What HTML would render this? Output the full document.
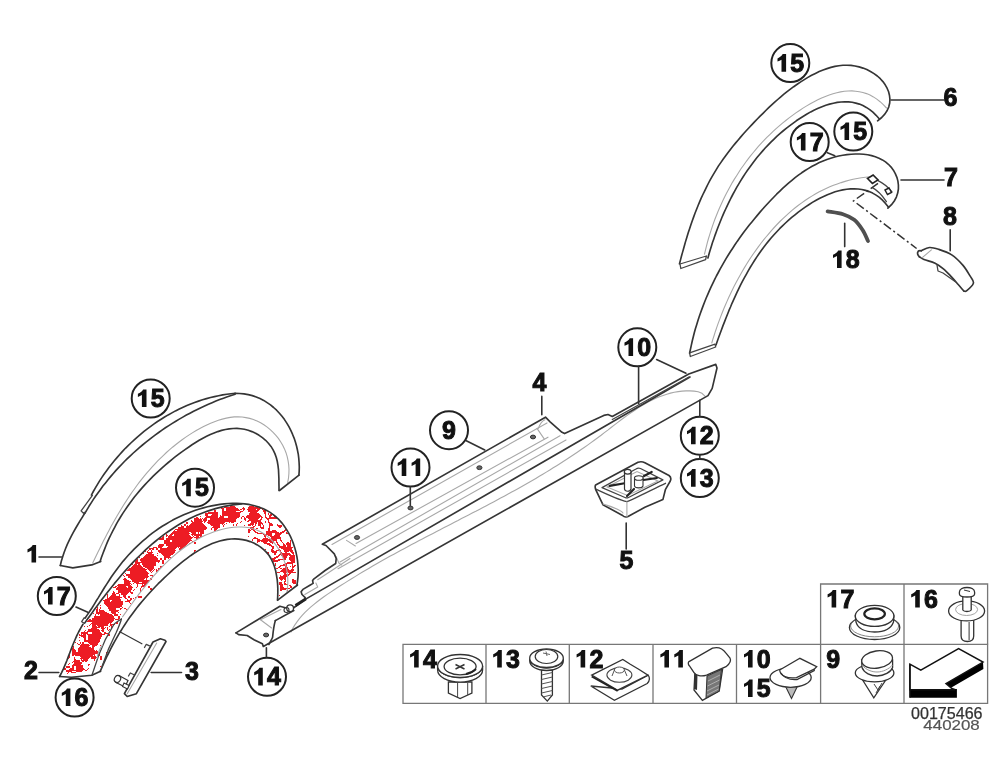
<!DOCTYPE html>
<html><head><meta charset="utf-8">
<style>
html,body{margin:0;padding:0;background:#fff;width:1000px;height:758px;overflow:hidden}
svg{display:block;will-change:transform}
.n{font-family:"Liberation Sans",sans-serif;font-weight:bold;font-size:25px;fill:#111;stroke:#111;stroke-width:1}
.c{fill:#fff;stroke:#222;stroke-width:2}
.L{fill:none;stroke:#333;stroke-width:1.6;stroke-linecap:round;stroke-linejoin:round}
.o{fill:none;stroke:#353535;stroke-width:1.65;stroke-linecap:round;stroke-linejoin:round}
.m{fill:none;stroke:#444;stroke-width:1.3;stroke-linecap:round;stroke-linejoin:round}
.t{fill:none;stroke:#a8a8a8;stroke-width:1.1;stroke-linecap:round}
.g{fill:none;stroke:#888;stroke-width:1.2}
.w{fill:#fff}
</style></head><body>
<svg width="1000" height="758" viewBox="0 0 1000 758">
<rect width="1000" height="758" fill="#fff"/>
<path class="w" d="M680 264C680.4 261.6 680.4 256.8 682.4 249.6C684.4 242.4 688.7 229.1 692 220.8C695.3 212.5 697.8 209.3 702 200C706.2 190.7 712.3 173.1 717.2 164.8C722.1 156.5 725.1 157.1 731.2 150C737.3 142.9 747.2 130 754 122.4C760.8 114.8 765 110.6 772 104.4C779 98.2 788 90.6 796 85.2C804 79.8 810.7 75.3 820 72C829.3 68.7 843.5 65.6 852 65.4C860.5 65.2 865.9 68.2 871.2 71C876.5 73.8 880.8 77.4 884 82.2C887.2 87 889.9 95 890.4 99.8C890.9 104.6 889.3 107.7 887.2 111C885.1 114.3 880.3 120.1 877.6 119.8C874.9 119.5 874.4 112.3 871.2 109.4C868 106.5 862.9 103.6 858.4 102.2C853.9 100.8 849.1 100.7 844 101C838.9 101.3 832 102.8 828 104C824 105.2 825.3 104.9 820 108C814.7 111.1 805.2 115.6 796 122.6C786.8 129.6 774.3 140.6 764.8 150C755.3 159.4 744.8 170.7 739 179C733.2 187.3 733 192.7 730 200C727 207.3 723.8 214.5 720.8 223C717.8 231.5 714.5 245.5 712 251.2C709.5 256.9 706.9 256.2 706 257C705.1 257.8 710.7 254.8 706.4 256C702.1 257.2 684.4 262.7 680 264"/>
<path class="t" d="M886.5 108.0L883.3 104.7L880.1 101.7L876.8 99.1L873.4 96.9L870.0 95.1L866.5 93.6L862.9 92.5L859.3 91.7L855.6 91.2L851.9 90.9L848.1 91.0L844.4 91.3L840.6 91.9L836.8 92.7L833.0 93.7L829.2 95.0L825.4 96.4L821.6 98.0L817.8 99.8L814.1 101.7L810.3 103.7L806.7 105.9L803.0 108.1L799.5 110.5L795.9 112.9L792.5 115.4L789.1 117.9L785.8 120.5L782.5 123.1L779.3 125.8L776.1 128.6L773.1 131.4L770.1 134.3L767.1 137.2L764.2 140.1L761.4 143.1L758.6 146.2L755.9 149.3L753.3 152.5L750.7 155.6L748.2 158.9L745.7 162.2L743.4 165.5L741.0 168.8L738.8 172.2L736.6 175.7L734.4 179.1L732.3 182.6L730.3 186.2L728.4 189.7L726.5 193.3L724.6 196.9L722.9 200.6L721.2 204.3L719.5 208.0L717.9 211.7L716.4 215.5L714.9 219.3L713.5 223.1L712.2 226.9L710.9 230.8L709.7 234.6L708.5 238.5L707.4 242.4L706.4 246.3L705.4 250.3L704.5 254.2"/>
<path class="o" d="M679.5 263.8L680.5 259.9L681.5 256.0L682.6 252.1L683.7 248.2L684.8 244.3L685.9 240.4L687.1 236.5L688.3 232.6L689.6 228.7L690.9 224.8L692.2 221.0L693.6 217.1L695.0 213.3L696.5 209.5L698.0 205.7L699.6 201.9L701.2 198.2L702.9 194.5L704.7 190.8L706.5 187.1L708.3 183.5L710.2 179.9L712.2 176.4L714.3 172.9L716.4 169.4L718.5 165.9L720.8 162.6L723.1 159.2L725.5 155.9L727.9 152.7L730.4 149.4L732.9 146.2L735.5 143.1L738.2 140.0L740.8 136.9L743.5 133.8L746.2 130.8L749.0 127.8L751.7 124.9L754.5 121.9L757.3 119.0L760.1 116.1L763.0 113.3L765.8 110.5L768.7 107.7L771.7 104.9L774.7 102.2L777.7 99.5L780.8 96.8L783.9 94.2L787.1 91.7L790.4 89.2L793.7 86.7L797.2 84.3L800.7 81.9L804.3 79.6L807.9 77.4L811.6 75.3L815.4 73.4L819.2 71.6L823.1 70.0L827.0 68.6L830.9 67.4L834.9 66.4L838.9 65.8L842.9 65.3L847.0 65.2L851.0 65.4L855.0 66.0L859.1 66.9L863.0 68.1L866.8 69.6L870.5 71.5L874.0 73.6L877.3 76.0L880.3 78.7L882.9 81.6L885.2 84.8L887.1 88.2L888.6 91.8L889.5 95.5L889.9 99.2L889.7 103.0L888.8 106.8L887.2 110.5L884.8 114.1L881.7 117.5L877.6 120.8"/>
<path class="o" d="M879.2 118.7L876.1 115.3L872.9 112.2L869.7 109.6L866.3 107.4L862.9 105.6L859.4 104.1L855.8 103.1L852.2 102.3L848.5 101.9L844.7 101.8L841.0 102.0L837.2 102.4L833.4 103.2L829.6 104.1L825.8 105.3L822.0 106.7L818.2 108.3L814.4 110.0L810.7 111.9L807.0 114.0L803.4 116.2L799.8 118.5L796.3 120.8L792.9 123.3L789.5 125.8L786.2 128.3L783.0 131.0L779.9 133.7L776.8 136.4L773.8 139.3L770.9 142.1L768.0 145.1L765.2 148.0L762.5 151.1L759.8 154.2L757.2 157.3L754.7 160.5L752.3 163.7L749.9 167.0L747.5 170.3L745.2 173.6L743.0 177.0L740.9 180.4L738.8 183.9L736.7 187.4L734.8 190.9L732.8 194.5L731.0 198.0L729.2 201.7L727.4 205.3L725.7 209.0L724.0 212.6L722.4 216.3L720.9 220.0L719.4 223.8L717.9 227.5L716.5 231.3L715.1 235.1L713.8 238.9L712.5 242.6L711.3 246.4L710.1 250.3L709.0 254.1L707.9 257.9"/>
<path class="m" d="M680 264 L680.8 268.5 L705.6 259.6 L706.4 256 L680 264"/>
<path class="t" d="M869.7 176.8L865.5 177.2L861.3 177.8L857.2 178.5L853.1 179.3L849.1 180.3L845.1 181.4L841.2 182.6L837.3 183.9L833.5 185.3L829.8 186.8L826.1 188.5L822.4 190.3L818.8 192.1L815.3 194.1L811.8 196.1L808.4 198.3L805.0 200.5L801.7 202.9L798.4 205.3L795.2 207.8L792.0 210.4L788.9 213.1L785.9 215.8L782.9 218.7L779.9 221.5L777.0 224.5L774.2 227.5L771.4 230.6L768.7 233.8L766.0 237.0L763.4 240.2L760.8 243.5L758.3 246.9L755.8 250.3L753.4 253.7L751.0 257.2L748.7 260.7L746.5 264.3L744.3 267.9L742.2 271.5L740.1 275.2L738.0 278.9L736.1 282.6L734.1 286.3L732.3 290.0L730.5 293.8L728.7 297.6L727.0 301.4L725.3 305.2L723.7 309.0L722.2 312.8L720.7 316.6L719.3 320.4L717.9 324.1L716.6 327.9L715.3 331.7L714.1 335.5L712.9 339.2L711.8 343.0"/>
<path class="o" d="M689.6 353.1L690.5 349.0L691.4 344.9L692.3 340.8L693.3 336.8L694.3 332.8L695.4 328.8L696.6 324.9L697.8 321.0L699.1 317.1L700.4 313.2L701.8 309.4L703.2 305.6L704.7 301.8L706.2 298.0L707.8 294.3L709.4 290.6L711.1 286.9L712.8 283.3L714.6 279.6L716.4 276.0L718.3 272.5L720.2 268.9L722.2 265.4L724.2 261.9L726.2 258.4L728.3 255.0L730.5 251.5L732.7 248.2L734.9 244.8L737.2 241.4L739.6 238.1L741.9 234.8L744.3 231.5L746.8 228.3L749.3 225.1L751.9 221.9L754.5 218.7L757.1 215.6L759.8 212.4L762.5 209.3L765.2 206.3L768.0 203.2L770.8 200.2L773.7 197.2L776.6 194.2L779.6 191.3L782.6 188.4L785.7 185.6L788.8 182.9L791.9 180.3L795.1 177.7L798.4 175.2L801.7 172.8L805.1 170.5L808.6 168.4L812.1 166.3L815.7 164.4L819.3 162.6L823.1 161.0L826.9 159.5L830.7 158.2L834.7 157.0L838.7 156.0L842.8 155.2L847.0 154.6L851.2 154.2L855.4 154.0L859.5 154.0L863.6 154.3L867.7 154.8L871.6 155.6L875.3 156.8L879.0 158.2L882.4 159.9L885.5 161.9L888.4 164.3L891.1 167.1L893.4 170.2L895.3 173.6L896.9 177.3L897.9 181.1L898.4 185.0L898.4 189.0L897.7 193.1L896.4 197.1L894.3 201.0L891.5 204.7L887.9 208.2"/>
<path class="o" d="M888.4 207.1L885.5 203.4L882.5 200.2L879.4 197.4L876.1 195.1L872.6 193.1L869.1 191.6L865.5 190.4L861.8 189.5L858.1 189.0L854.3 188.8L850.5 188.9L846.7 189.2L842.8 189.9L839.0 190.7L835.1 191.8L831.3 193.2L827.4 194.7L823.6 196.4L819.8 198.2L816.1 200.3L812.4 202.4L808.8 204.7L805.2 207.1L801.7 209.6L798.3 212.1L795.0 214.8L791.7 217.4L788.6 220.2L785.5 223.0L782.5 225.8L779.6 228.7L776.8 231.7L774.0 234.7L771.3 237.8L768.7 240.9L766.2 244.0L763.7 247.2L761.3 250.5L759.0 253.8L756.7 257.1L754.5 260.5L752.4 263.9L750.3 267.3L748.2 270.8L746.3 274.3L744.3 277.8L742.4 281.4L740.6 284.9L738.8 288.6L737.1 292.2L735.4 295.9L733.7 299.6L732.0 303.3L730.5 307.0L728.9 310.7L727.4 314.5L725.9 318.3L724.4 322.1L722.9 325.9L721.5 329.7L720.1 333.5L718.7 337.3L717.3 341.2L716.0 345.0"/>
<path class="m" d="M689.6 352.9 L690.3 356.5 L715.7 347 L715 344.2 L689.6 352.9"/>
<path class="m" d="M878 180.6 C883 183 888 187 892 191.8 M872.4 187.6 C877 190 882 195 886.4 201.6"/>
<path fill="#fff" stroke="#222" stroke-width="1.6" d="M867.5 178.5 L873.1 175 L878 179.9 L872.4 183.4 Z"/>
<path fill="#fff" stroke="#222" stroke-width="1.4" d="M885 190 L889 188 L891.5 192.5 L887.5 194.5 Z"/>
<path fill="none" stroke="#333" stroke-width="1.5" stroke-dasharray="9 3 2 3" d="M878 183.4 L853.5 200.9 L916.6 248.5"/>
<path fill="none" stroke="#505050" stroke-width="3.8" stroke-linecap="round" d="M827.6 211.4C830.2 211.9 838.6 212.8 843 214.2C847.4 215.6 850.9 217.2 854.2 219.8C857.5 222.4 860.3 226.5 862.6 230C864.9 233.5 867.1 239.2 868 241"/>
<path class="o" d="M921.2 250.8C922.6 250.2 926.6 247.7 929.5 247.5C932.4 247.3 935.1 248.2 938.8 249.4C942.5 250.6 947.7 252.3 951.7 254.9C955.7 257.5 959.7 261.6 962.8 265.1C965.9 268.7 968.4 273.2 970.2 276.2C972 279.2 974 280.7 973.4 283.1C972.8 285.6 968.1 289.6 966.5 290.9C964.9 292.2 964.2 290.9 963.7 290.9"/>
<path class="o" d="M963.7 290.9C962.8 289.8 960.2 286.8 958.2 284.5C956.2 282.2 954.2 279.7 951.7 277.1C949.2 274.5 946.2 271.1 943.4 268.8C940.6 266.5 938.3 264.8 935.1 263.2C931.9 261.6 926.6 260.6 924 259.5C921.4 258.4 920.2 257.2 919.4 256.8"/>
<path class="o" d="M919.4 256.8 C916.5 254 917 250 921.2 250.8"/>
<path class="t" d="M922.2 257.7 L931.4 249.9"/>
<path class="m" d="M937 265 L938 271 L943 273 L955.4 281.7"/>
<path class="w" d="M299 475.2 L296.5 448 L289.7 427.6 L276 408.9 L259 398.7 L235.2 393.3 L216.5 396.2 L191 403.8 L165.5 416.6 L141.6 433 L120 455 L100.1 480 L93 489.5 L92.4 495.4 L81.1 510.9 L84.7 513.3 L72.8 533.4 L64.5 551.3 L60.3 565.5 L72.8 567.9 L91.8 564.9 L100.7 561.4 L100.7 561.4 L104.9 546.5 L114.4 527.5 L128.6 503.8 L145 485.9 L156.4 474 L182.5 450 L210 436 L228.4 428.5 L247.1 429.3 L264.1 437.8 L274.4 453.1 L277.8 475.2 L279.5 490.5 L299 475.2Z"/>
<path class="t" d="M287.7 482.4L288.5 478.0L288.9 473.5L289.0 469.2L288.7 464.9L288.1 460.8L287.2 456.7L286.0 452.7L284.5 448.9L282.7 445.2L280.6 441.7L278.4 438.4L275.9 435.3L273.1 432.3L270.2 429.6L267.2 427.1L263.9 424.8L260.6 422.8L257.1 421.1L253.4 419.6L249.7 418.4L245.9 417.6L242.1 417.0L238.2 416.8L234.2 416.9L230.3 417.4L226.3 418.1L222.3 419.1L218.4 420.3L214.5 421.7L210.6 423.2L206.8 424.9L203.1 426.8L199.4 428.7L195.8 430.8L192.3 432.9L188.8 435.1L185.4 437.4L182.1 439.8L178.8 442.2L175.6 444.7L172.5 447.2L169.4 449.9L166.4 452.5L163.5 455.3L160.6 458.1L157.7 460.9L155.0 463.8L152.2 466.8L149.6 469.8L146.9 472.8L144.4 475.9L141.8 479.1L139.4 482.2L136.9 485.5L134.6 488.7L132.2 492.0L129.9 495.4L127.7 498.7L125.5 502.1L123.3 505.5L121.2 509.0L119.1 512.5L117.0 516.0L115.0 519.5L113.0 523.1L111.0 526.6L109.1 530.2L107.2 533.8L105.3 537.5L103.4 541.1L101.6 544.7L99.8 548.4L98.0 552.0L96.2 555.7L94.5 559.3L92.7 563.0"/>
<path class="o" d="M235.2 393.3L231.0 393.7L226.9 394.3L222.7 394.9L218.6 395.7L214.5 396.6L210.5 397.5L206.5 398.6L202.5 399.8L198.5 401.1L194.6 402.5L190.7 404.0L186.9 405.6L183.1 407.3L179.3 409.0L175.5 410.9L171.9 412.9L168.2 414.9L164.6 417.0L161.1 419.2L157.5 421.5L154.1 423.9L150.7 426.3L147.3 428.8L144.0 431.4L140.8 434.1L137.6 436.8L134.5 439.6L131.4 442.5L128.4 445.4L125.4 448.3L122.5 451.4L119.7 454.5L117.0 457.6L114.3 460.8L111.7 464.0L109.1 467.3L106.6 470.7L104.2 474.0L101.9 477.4L99.6 480.9L97.5 484.4L95.4 487.9L93.3 491.5L91.4 495.1"/>
<path class="o" d="M235.1 394.2L231.2 395.5L227.4 396.8L223.5 398.2L219.7 399.6L215.9 401.1L212.1 402.7L208.4 404.3L204.6 406.0L200.9 407.7L197.3 409.5L193.6 411.3L190.0 413.2L186.4 415.1L182.8 417.1L179.3 419.1L175.8 421.2L172.3 423.4L168.8 425.6L165.4 427.8L162.0 430.1L158.7 432.5L155.4 434.9L152.1 437.3L148.9 439.8L145.7 442.4L142.5 445.0L139.4 447.6L136.3 450.3L133.3 453.0L130.3 455.8L127.3 458.7L124.4 461.5L121.6 464.5L118.8 467.4L116.0 470.4L113.3 473.5L110.6 476.6L108.0 479.7L105.5 482.9L102.9 486.1L100.5 489.4L98.1 492.7L95.7 496.0L93.4 499.4L91.2 502.9L89.0 506.3L86.9 509.8L84.8 513.4"/>
<path class="o" d="M235.0 393.4L239.6 393.5L244.0 393.9L248.2 394.6L252.3 395.6L256.2 397.0L260.0 398.6L263.7 400.4L267.1 402.6L270.5 404.9L273.6 407.5L276.6 410.2L279.4 413.2L282.0 416.3L284.5 419.6L286.8 423.1L288.9 426.7L290.8 430.4L292.5 434.2L294.1 438.1L295.4 442.1L296.6 446.2L297.5 450.3L298.3 454.4L298.8 458.6L299.1 462.8L299.3 467.0L299.2 471.1L298.9 475.2"/>
<path class="o" d="M279.0 490.6L279.0 486.7L278.9 482.6L278.9 478.5L278.7 474.2L278.5 469.9L278.0 465.7L277.3 461.5L276.3 457.5L274.9 453.6L273.1 449.9L271.0 446.4L268.4 443.2L265.6 440.3L262.4 437.7L259.1 435.3L255.6 433.3L251.9 431.6L248.2 430.3L244.4 429.3L240.7 428.7L236.9 428.4L233.1 428.5L229.2 428.9L225.4 429.5L221.6 430.4L217.8 431.6L214.1 433.0L210.3 434.5L206.6 436.3L202.9 438.2L199.2 440.3L195.6 442.5L192.0 444.8L188.5 447.2L185.0 449.6L181.5 452.1L178.1 454.7L174.8 457.2L171.5 459.8L168.3 462.5L165.2 465.1L162.1 467.8L159.1 470.6L156.1 473.4L153.2 476.2L150.3 479.1L147.5 482.0L144.8 484.9L142.1 487.9L139.5 490.9L136.9 494.0L134.4 497.1L132.0 500.3L129.6 503.5L127.3 506.8L125.0 510.1L122.8 513.4L120.7 516.8L118.6 520.2L116.6 523.7L114.7 527.3L112.8 530.9L111.0 534.5L109.2 538.2L107.5 541.9L105.9 545.7L104.4 549.6L102.9 553.5L101.4 557.5L100.1 561.5"/>
<path class="o" d="M84.7 513.3L82.4 517.1L80.0 520.9L77.7 524.7L75.5 528.5L73.3 532.4L71.2 536.4L69.2 540.4L67.3 544.4L65.6 548.5L64.0 552.7L62.6 556.9L61.3 561.2L60.3 565.5"/>
<path class="m" d="M92.4 495.4 L81.1 510.9 L83.5 513.3 L86 511.5"/>
<path class="o" d="M60.3 565.5 L72.8 567.9 L91.8 564.9 L100.7 561.4 M299 475.2 L279.5 490.5"/>
<path id="p2fill" class="w" d="M297.5 585 L296.7 566 L293.5 545.4 L285.6 526.4 L273 513.8 L258.7 505.8 L241.3 503.5 L217.5 505 L200 509.5 L168.6 523 L146.5 538 L127.5 555.4 L111.7 574.4 L104 590 L92.5 609 L84.3 617.7 L81.7 621.7 L83 624.3 L71.1 649.4 L63.2 669.2 L59.6 676.5 L71.5 677.2 L91.9 675.2 L100.5 671.3 L100.5 671.3 L101.1 669.3 L107 656 L115 640 L126.7 622.2 L142.5 601.1 L162.5 580 L168.6 572.8 L200 550.7 L225.4 540 L241.3 538.3 L258.7 543.8 L269.8 558.1 L276.1 577.1 L277.7 600.1Z"/>
<path fill="#ed1c24" d="M230 506h5v1h-5zM249 506h5v1h-5zM224 507h12v1h-12zM243 507h1v1h-1zM248 507h10v1h-10zM221 508h3v1h-3zM226 508h12v1h-12zM242 508h3v1h-3zM248 508h13v1h-13zM222 509h2v1h-2zM226 509h13v1h-13zM240 509h2v1h-2zM243 509h2v1h-2zM247 509h9v1h-9zM257 509h3v1h-3zM262 509h1v1h-1zM214 510h2v1h-2zM222 510h2v1h-2zM226 510h14v1h-14zM243 510h1v1h-1zM248 510h11v1h-11zM263 510h3v1h-3zM214 511h2v1h-2zM222 511h14v1h-14zM240 511h3v1h-3zM248 511h10v1h-10zM263 511h3v1h-3zM208 512h10v1h-10zM222 512h19v1h-19zM250 512h7v1h-7zM264 512h2v1h-2zM205 513h13v1h-13zM222 513h18v1h-18zM249 513h10v1h-10zM264 513h2v1h-2zM268 513h1v1h-1zM205 514h3v1h-3zM212 514h6v1h-6zM222 514h18v1h-18zM249 514h11v1h-11zM265 514h1v1h-1zM268 514h1v1h-1zM270 514h2v1h-2zM205 515h3v1h-3zM211 515h7v1h-7zM220 515h1v1h-1zM222 515h18v1h-18zM247 515h14v1h-14zM265 515h1v1h-1zM269 515h3v1h-3zM200 516h1v1h-1zM206 516h12v1h-12zM220 516h4v1h-4zM228 516h12v1h-12zM242 516h2v1h-2zM246 516h16v1h-16zM265 516h1v1h-1zM269 516h2v1h-2zM274 516h1v1h-1zM196 517h2v1h-2zM205 517h13v1h-13zM219 517h5v1h-5zM228 517h11v1h-11zM241 517h1v1h-1zM244 517h1v1h-1zM246 517h14v1h-14zM261 517h2v1h-2zM265 517h2v1h-2zM269 517h7v1h-7zM194 518h5v1h-5zM200 518h1v1h-1zM202 518h1v1h-1zM204 518h3v1h-3zM210 518h27v1h-27zM241 518h1v1h-1zM244 518h2v1h-2zM248 518h11v1h-11zM261 518h1v1h-1zM266 518h11v1h-11zM194 519h8v1h-8zM203 519h4v1h-4zM210 519h26v1h-26zM244 519h2v1h-2zM249 519h9v1h-9zM260 519h2v1h-2zM267 519h2v1h-2zM191 520h1v1h-1zM194 520h8v1h-8zM203 520h4v1h-4zM208 520h28v1h-28zM245 520h1v1h-1zM248 520h13v1h-13zM268 520h1v1h-1zM191 521h2v1h-2zM194 521h9v1h-9zM204 521h2v1h-2zM208 521h28v1h-28zM241 521h1v1h-1zM247 521h2v1h-2zM251 521h10v1h-10zM265 521h1v1h-1zM268 521h1v1h-1zM186 522h2v1h-2zM192 522h10v1h-10zM204 522h1v1h-1zM207 522h18v1h-18zM229 522h1v1h-1zM231 522h3v1h-3zM240 522h1v1h-1zM251 522h6v1h-6zM258 522h4v1h-4zM265 522h1v1h-1zM268 522h2v1h-2zM186 523h2v1h-2zM191 523h12v1h-12zM208 523h16v1h-16zM226 523h1v1h-1zM237 523h1v1h-1zM250 523h4v1h-4zM255 523h2v1h-2zM258 523h5v1h-5zM269 523h3v1h-3zM184 524h2v1h-2zM190 524h14v1h-14zM210 524h10v1h-10zM222 524h1v1h-1zM224 524h1v1h-1zM233 524h1v1h-1zM236 524h1v1h-1zM248 524h6v1h-6zM255 524h1v1h-1zM258 524h3v1h-3zM262 524h1v1h-1zM269 524h4v1h-4zM277 524h1v1h-1zM181 525h1v1h-1zM184 525h2v1h-2zM187 525h1v1h-1zM189 525h16v1h-16zM211 525h9v1h-9zM223 525h1v1h-1zM233 525h1v1h-1zM236 525h1v1h-1zM244 525h1v1h-1zM248 525h3v1h-3zM252 525h1v1h-1zM255 525h1v1h-1zM258 525h3v1h-3zM263 525h1v1h-1zM269 525h4v1h-4zM277 525h5v1h-5zM181 526h3v1h-3zM186 526h20v1h-20zM213 526h7v1h-7zM223 526h1v1h-1zM253 526h2v1h-2zM260 526h1v1h-1zM263 526h1v1h-1zM269 526h1v1h-1zM278 526h4v1h-4zM178 527h6v1h-6zM186 527h21v1h-21zM212 527h8v1h-8zM250 527h4v1h-4zM260 527h4v1h-4zM269 527h1v1h-1zM279 527h2v1h-2zM178 528h29v1h-29zM211 528h1v1h-1zM214 528h4v1h-4zM250 528h4v1h-4zM256 528h2v1h-2zM261 528h3v1h-3zM268 528h2v1h-2zM175 529h31v1h-31zM211 529h1v1h-1zM214 529h3v1h-3zM248 529h2v1h-2zM251 529h3v1h-3zM268 529h2v1h-2zM285 529h1v1h-1zM174 530h1v1h-1zM177 530h27v1h-27zM214 530h2v1h-2zM248 530h3v1h-3zM253 530h2v1h-2zM268 530h2v1h-2zM272 530h4v1h-4zM284 530h2v1h-2zM173 531h31v1h-31zM248 531h2v1h-2zM254 531h2v1h-2zM266 531h11v1h-11zM282 531h3v1h-3zM172 532h17v1h-17zM191 532h5v1h-5zM198 532h1v1h-1zM200 532h4v1h-4zM248 532h2v1h-2zM255 532h3v1h-3zM266 532h13v1h-13zM280 532h4v1h-4zM286 532h1v1h-1zM171 533h19v1h-19zM192 533h4v1h-4zM198 533h1v1h-1zM200 533h4v1h-4zM257 533h7v1h-7zM266 533h6v1h-6zM275 533h7v1h-7zM286 533h2v1h-2zM166 534h1v1h-1zM170 534h3v1h-3zM174 534h15v1h-15zM191 534h11v1h-11zM263 534h9v1h-9zM275 534h6v1h-6zM166 535h2v1h-2zM169 535h3v1h-3zM174 535h16v1h-16zM192 535h1v1h-1zM194 535h8v1h-8zM264 535h2v1h-2zM268 535h4v1h-4zM274 535h6v1h-6zM163 536h1v1h-1zM166 536h1v1h-1zM168 536h23v1h-23zM193 536h1v1h-1zM196 536h3v1h-3zM200 536h3v1h-3zM248 536h1v1h-1zM264 536h2v1h-2zM270 536h10v1h-10zM162 537h2v1h-2zM168 537h25v1h-25zM194 537h7v1h-7zM254 537h2v1h-2zM265 537h1v1h-1zM271 537h10v1h-10zM160 538h4v1h-4zM166 538h26v1h-26zM196 538h2v1h-2zM253 538h5v1h-5zM263 538h5v1h-5zM271 538h10v1h-10zM159 539h5v1h-5zM166 539h25v1h-25zM196 539h1v1h-1zM252 539h1v1h-1zM257 539h3v1h-3zM262 539h15v1h-15zM280 539h1v1h-1zM164 540h6v1h-6zM172 540h20v1h-20zM252 540h1v1h-1zM257 540h20v1h-20zM280 540h2v1h-2zM290 540h1v1h-1zM164 541h6v1h-6zM172 541h18v1h-18zM192 541h1v1h-1zM257 541h3v1h-3zM261 541h7v1h-7zM269 541h5v1h-5zM276 541h1v1h-1zM281 541h1v1h-1zM290 541h1v1h-1zM164 542h25v1h-25zM194 542h2v1h-2zM257 542h1v1h-1zM263 542h4v1h-4zM270 542h4v1h-4zM276 542h2v1h-2zM282 542h1v1h-1zM287 542h2v1h-2zM290 542h1v1h-1zM164 543h24v1h-24zM189 543h2v1h-2zM194 543h2v1h-2zM264 543h6v1h-6zM272 543h1v1h-1zM277 543h1v1h-1zM283 543h1v1h-1zM286 543h5v1h-5zM159 544h5v1h-5zM166 544h21v1h-21zM267 544h4v1h-4zM277 544h2v1h-2zM283 544h2v1h-2zM286 544h5v1h-5zM158 545h6v1h-6zM166 545h20v1h-20zM269 545h3v1h-3zM278 545h2v1h-2zM283 545h3v1h-3zM287 545h4v1h-4zM158 546h5v1h-5zM168 546h18v1h-18zM271 546h3v1h-3zM279 546h7v1h-7zM287 546h4v1h-4zM153 547h4v1h-4zM158 547h4v1h-4zM167 547h10v1h-10zM178 547h1v1h-1zM180 547h5v1h-5zM272 547h2v1h-2zM279 547h14v1h-14zM149 548h5v1h-5zM156 548h2v1h-2zM160 548h16v1h-16zM179 548h4v1h-4zM272 548h2v1h-2zM281 548h11v1h-11zM149 549h2v1h-2zM152 549h2v1h-2zM156 549h2v1h-2zM160 549h15v1h-15zM179 549h3v1h-3zM265 549h1v1h-1zM271 549h2v1h-2zM278 549h2v1h-2zM283 549h9v1h-9zM148 550h1v1h-1zM151 550h1v1h-1zM158 550h18v1h-18zM194 550h2v1h-2zM271 550h3v1h-3zM276 550h5v1h-5zM284 550h9v1h-9zM145 551h1v1h-1zM147 551h1v1h-1zM151 551h1v1h-1zM158 551h17v1h-17zM194 551h1v1h-1zM271 551h6v1h-6zM280 551h1v1h-1zM284 551h5v1h-5zM290 551h3v1h-3zM147 552h6v1h-6zM159 552h16v1h-16zM267 552h2v1h-2zM272 552h5v1h-5zM280 552h2v1h-2zM285 552h2v1h-2zM291 552h3v1h-3zM143 553h1v1h-1zM148 553h4v1h-4zM157 553h1v1h-1zM161 553h13v1h-13zM268 553h1v1h-1zM274 553h2v1h-2zM280 553h10v1h-10zM292 553h2v1h-2zM146 554h8v1h-8zM162 554h11v1h-11zM274 554h2v1h-2zM279 554h12v1h-12zM293 554h1v1h-1zM145 555h9v1h-9zM157 555h1v1h-1zM163 555h8v1h-8zM278 555h2v1h-2zM281 555h7v1h-7zM289 555h6v1h-6zM144 556h12v1h-12zM164 556h6v1h-6zM276 556h3v1h-3zM282 556h5v1h-5zM290 556h5v1h-5zM139 557h1v1h-1zM143 557h14v1h-14zM164 557h7v1h-7zM274 557h4v1h-4zM283 557h4v1h-4zM289 557h6v1h-6zM141 558h17v1h-17zM160 558h2v1h-2zM164 558h2v1h-2zM168 558h1v1h-1zM272 558h4v1h-4zM283 558h3v1h-3zM289 558h6v1h-6zM137 559h1v1h-1zM140 559h18v1h-18zM160 559h2v1h-2zM164 559h2v1h-2zM272 559h3v1h-3zM278 559h8v1h-8zM289 559h6v1h-6zM136 560h2v1h-2zM140 560h20v1h-20zM162 560h2v1h-2zM273 560h7v1h-7zM290 560h5v1h-5zM135 561h3v1h-3zM141 561h19v1h-19zM162 561h2v1h-2zM273 561h5v1h-5zM291 561h4v1h-4zM135 562h21v1h-21zM158 562h1v1h-1zM162 562h2v1h-2zM287 562h8v1h-8zM135 563h5v1h-5zM142 563h14v1h-14zM162 563h2v1h-2zM275 563h1v1h-1zM285 563h8v1h-8zM132 564h1v1h-1zM134 564h3v1h-3zM138 564h2v1h-2zM142 564h14v1h-14zM275 564h1v1h-1zM283 564h4v1h-4zM292 564h1v1h-1zM133 565h8v1h-8zM143 565h13v1h-13zM275 565h1v1h-1zM280 565h7v1h-7zM292 565h1v1h-1zM294 565h2v1h-2zM132 566h10v1h-10zM143 566h11v1h-11zM160 566h2v1h-2zM279 566h2v1h-2zM285 566h2v1h-2zM290 566h1v1h-1zM292 566h3v1h-3zM131 567h12v1h-12zM145 567h9v1h-9zM160 567h2v1h-2zM278 567h2v1h-2zM285 567h3v1h-3zM292 567h2v1h-2zM129 568h16v1h-16zM147 568h7v1h-7zM158 568h2v1h-2zM276 568h2v1h-2zM280 568h2v1h-2zM283 568h5v1h-5zM292 568h1v1h-1zM128 569h19v1h-19zM148 569h5v1h-5zM154 569h1v1h-1zM156 569h1v1h-1zM158 569h1v1h-1zM282 569h7v1h-7zM291 569h3v1h-3zM127 570h19v1h-19zM149 570h3v1h-3zM153 570h1v1h-1zM156 570h2v1h-2zM281 570h13v1h-13zM130 571h17v1h-17zM150 571h1v1h-1zM152 571h1v1h-1zM156 571h1v1h-1zM280 571h13v1h-13zM130 572h18v1h-18zM151 572h1v1h-1zM277 572h3v1h-3zM283 572h4v1h-4zM288 572h8v1h-8zM125 573h1v1h-1zM130 573h19v1h-19zM284 573h2v1h-2zM289 573h2v1h-2zM126 574h22v1h-22zM284 574h3v1h-3zM288 574h2v1h-2zM123 575h1v1h-1zM126 575h22v1h-22zM150 575h3v1h-3zM280 575h1v1h-1zM283 575h6v1h-6zM124 576h1v1h-1zM128 576h21v1h-21zM152 576h1v1h-1zM280 576h8v1h-8zM128 577h20v1h-20zM279 577h7v1h-7zM124 578h2v1h-2zM130 578h15v1h-15zM146 578h1v1h-1zM150 578h2v1h-2zM279 578h7v1h-7zM123 579h4v1h-4zM131 579h13v1h-13zM146 579h1v1h-1zM150 579h2v1h-2zM280 579h3v1h-3zM284 579h2v1h-2zM292 579h2v1h-2zM124 580h5v1h-5zM132 580h18v1h-18zM281 580h1v1h-1zM285 580h1v1h-1zM292 580h4v1h-4zM124 581h7v1h-7zM132 581h17v1h-17zM284 581h2v1h-2zM292 581h4v1h-4zM124 582h6v1h-6zM134 582h5v1h-5zM142 582h6v1h-6zM279 582h3v1h-3zM284 582h1v1h-1zM292 582h4v1h-4zM124 583h7v1h-7zM133 583h1v1h-1zM136 583h11v1h-11zM279 583h3v1h-3zM284 583h2v1h-2zM293 583h3v1h-3zM118 584h12v1h-12zM131 584h1v1h-1zM137 584h1v1h-1zM142 584h1v1h-1zM144 584h2v1h-2zM279 584h4v1h-4zM284 584h4v1h-4zM117 585h14v1h-14zM137 585h1v1h-1zM142 585h4v1h-4zM280 585h3v1h-3zM289 585h2v1h-2zM115 586h2v1h-2zM118 586h8v1h-8zM128 586h4v1h-4zM137 586h1v1h-1zM141 586h4v1h-4zM148 586h2v1h-2zM280 586h3v1h-3zM290 586h2v1h-2zM113 587h3v1h-3zM117 587h10v1h-10zM128 587h5v1h-5zM136 587h1v1h-1zM141 587h1v1h-1zM148 587h2v1h-2zM280 587h4v1h-4zM290 587h2v1h-2zM116 588h16v1h-16zM140 588h1v1h-1zM150 588h2v1h-2zM280 588h10v1h-10zM116 589h16v1h-16zM134 589h1v1h-1zM140 589h1v1h-1zM150 589h2v1h-2zM280 589h6v1h-6zM118 590h13v1h-13zM133 590h1v1h-1zM140 590h1v1h-1zM280 590h2v1h-2zM287 590h1v1h-1zM113 591h1v1h-1zM118 591h13v1h-13zM140 591h1v1h-1zM113 592h2v1h-2zM118 592h11v1h-11zM130 592h3v1h-3zM112 593h3v1h-3zM116 593h3v1h-3zM121 593h7v1h-7zM131 593h2v1h-2zM107 594h1v1h-1zM112 594h4v1h-4zM119 594h1v1h-1zM121 594h6v1h-6zM107 595h1v1h-1zM111 595h5v1h-5zM119 595h1v1h-1zM123 595h3v1h-3zM279 595h1v1h-1zM107 596h1v1h-1zM110 596h10v1h-10zM123 596h3v1h-3zM128 596h2v1h-2zM138 596h4v1h-4zM107 597h1v1h-1zM109 597h13v1h-13zM124 597h2v1h-2zM128 597h2v1h-2zM135 597h1v1h-1zM138 597h4v1h-4zM107 598h13v1h-13zM125 598h2v1h-2zM130 598h2v1h-2zM133 598h1v1h-1zM105 599h16v1h-16zM127 599h1v1h-1zM130 599h2v1h-2zM103 600h7v1h-7zM112 600h9v1h-9zM127 600h4v1h-4zM104 601h6v1h-6zM111 601h12v1h-12zM125 601h5v1h-5zM104 602h19v1h-19zM129 602h1v1h-1zM104 603h19v1h-19zM130 603h1v1h-1zM105 604h18v1h-18zM100 605h1v1h-1zM106 605h16v1h-16zM107 606h15v1h-15zM97 607h1v1h-1zM100 607h1v1h-1zM108 607h12v1h-12zM122 607h1v1h-1zM97 608h1v1h-1zM100 608h1v1h-1zM108 608h8v1h-8zM120 608h2v1h-2zM124 608h2v1h-2zM96 609h2v1h-2zM99 609h1v1h-1zM109 609h7v1h-7zM120 609h1v1h-1zM126 609h1v1h-1zM96 610h2v1h-2zM99 610h5v1h-5zM109 610h10v1h-10zM96 611h2v1h-2zM99 611h6v1h-6zM111 611h7v1h-7zM96 612h11v1h-11zM111 612h5v1h-5zM118 612h1v1h-1zM93 613h1v1h-1zM96 613h13v1h-13zM112 613h4v1h-4zM95 614h1v1h-1zM98 614h1v1h-1zM100 614h12v1h-12zM114 614h4v1h-4zM120 614h1v1h-1zM95 615h1v1h-1zM100 615h13v1h-13zM114 615h4v1h-4zM94 616h20v1h-20zM118 616h2v1h-2zM94 617h20v1h-20zM118 617h2v1h-2zM92 618h23v1h-23zM118 618h2v1h-2zM89 619h2v1h-2zM92 619h22v1h-22zM115 619h4v1h-4zM88 620h26v1h-26zM87 621h26v1h-26zM92 622h20v1h-20zM116 622h2v1h-2zM91 623h18v1h-18zM110 623h1v1h-1zM116 623h2v1h-2zM90 624h1v1h-1zM92 624h16v1h-16zM110 624h5v1h-5zM89 625h1v1h-1zM92 625h4v1h-4zM97 625h11v1h-11zM110 625h2v1h-2zM84 626h1v1h-1zM87 626h1v1h-1zM92 626h5v1h-5zM98 626h6v1h-6zM109 626h1v1h-1zM111 626h1v1h-1zM92 627h8v1h-8zM101 627h3v1h-3zM105 627h1v1h-1zM107 627h1v1h-1zM111 627h1v1h-1zM91 628h6v1h-6zM101 628h4v1h-4zM107 628h1v1h-1zM88 629h11v1h-11zM102 629h2v1h-2zM107 629h1v1h-1zM109 629h1v1h-1zM85 630h1v1h-1zM88 630h12v1h-12zM101 630h3v1h-3zM108 630h1v1h-1zM84 631h1v1h-1zM87 631h13v1h-13zM102 631h2v1h-2zM81 632h7v1h-7zM92 632h9v1h-9zM104 632h2v1h-2zM81 633h7v1h-7zM92 633h10v1h-10zM104 633h4v1h-4zM79 634h1v1h-1zM81 634h1v1h-1zM83 634h3v1h-3zM87 634h18v1h-18zM108 634h2v1h-2zM79 635h7v1h-7zM88 635h14v1h-14zM108 635h2v1h-2zM81 636h5v1h-5zM88 636h14v1h-14zM79 637h1v1h-1zM83 637h3v1h-3zM88 637h13v1h-13zM84 638h2v1h-2zM88 638h13v1h-13zM84 639h2v1h-2zM88 639h12v1h-12zM79 640h1v1h-1zM84 640h16v1h-16zM84 641h16v1h-16zM75 642h1v1h-1zM80 642h1v1h-1zM82 642h2v1h-2zM88 642h11v1h-11zM77 643h1v1h-1zM80 643h1v1h-1zM82 643h2v1h-2zM89 643h9v1h-9zM78 644h2v1h-2zM81 644h8v1h-8zM90 644h8v1h-8zM80 645h10v1h-10zM92 645h5v1h-5zM100 645h1v1h-1zM73 646h1v1h-1zM80 646h9v1h-9zM92 646h3v1h-3zM73 647h1v1h-1zM79 647h12v1h-12zM92 647h2v1h-2zM72 648h2v1h-2zM78 648h16v1h-16zM72 649h3v1h-3zM78 649h16v1h-16zM72 650h4v1h-4zM78 650h17v1h-17zM96 650h1v1h-1zM72 651h4v1h-4zM78 651h20v1h-20zM72 652h26v1h-26zM106 652h1v1h-1zM72 653h26v1h-26zM106 653h1v1h-1zM72 654h23v1h-23zM98 654h2v1h-2zM69 655h1v1h-1zM72 655h2v1h-2zM75 655h18v1h-18zM94 655h1v1h-1zM98 655h2v1h-2zM69 656h1v1h-1zM80 656h16v1h-16zM100 656h2v1h-2zM69 657h1v1h-1zM74 657h1v1h-1zM81 657h9v1h-9zM91 657h6v1h-6zM100 657h2v1h-2zM68 658h1v1h-1zM74 658h1v1h-1zM80 658h9v1h-9zM91 658h5v1h-5zM100 658h2v1h-2zM74 659h2v1h-2zM81 659h1v1h-1zM83 659h5v1h-5zM94 659h1v1h-1zM100 659h2v1h-2zM74 660h6v1h-6zM81 660h7v1h-7zM94 660h1v1h-1zM73 661h7v1h-7zM82 661h2v1h-2zM85 661h2v1h-2zM72 662h1v1h-1zM74 662h8v1h-8zM69 663h1v1h-1zM74 663h8v1h-8zM68 664h1v1h-1zM73 664h8v1h-8zM88 664h2v1h-2zM72 665h11v1h-11zM88 665h1v1h-1zM66 666h4v1h-4zM72 666h2v1h-2zM76 666h7v1h-7zM100 666h1v1h-1zM66 667h4v1h-4zM72 667h2v1h-2zM76 667h7v1h-7zM64 668h2v1h-2zM70 668h4v1h-4zM76 668h8v1h-8zM88 668h1v1h-1zM64 669h2v1h-2zM69 669h5v1h-5zM76 669h9v1h-9zM87 669h1v1h-1zM66 670h17v1h-17zM85 670h2v1h-2zM66 671h6v1h-6zM76 671h6v1h-6zM68 672h1v1h-1zM71 672h5v1h-5zM67 673h1v1h-1z"/>
<path class="t" d="M286.9 591.8L287.5 587.5L287.8 583.2L287.8 578.9L287.4 574.6L286.8 570.4L285.9 566.2L284.7 562.1L283.2 558.2L281.5 554.3L279.6 550.7L277.4 547.2L275.0 543.9L272.4 540.9L269.6 538.1L266.6 535.6L263.5 533.4L260.1 531.5L256.7 529.9L253.1 528.7L249.3 527.8L245.5 527.3L241.6 527.0L237.6 527.0L233.6 527.3L229.6 527.8L225.5 528.5L221.5 529.5L217.5 530.6L213.5 532.0L209.7 533.4L205.8 535.0L202.1 536.8L198.4 538.7L194.9 540.7L191.4 542.8L187.9 545.0L184.6 547.3L181.3 549.7L178.0 552.3L174.9 554.9L171.8 557.6L168.7 560.3L165.8 563.2L162.8 566.1L160.0 569.0L157.2 572.1L154.4 575.1L151.7 578.2L149.1 581.4L146.5 584.6L143.9 587.8L141.4 591.0L138.9 594.2L136.5 597.5L134.1 600.7L131.7 604.0L129.4 607.2L127.1 610.4L124.8 613.6L122.6 616.8"/>
<path class="o" d="M296.9 585.4L297.5 581.3L298.0 577.1L298.2 572.9L298.2 568.7L297.9 564.5L297.5 560.3L296.8 556.1L295.9 551.9L294.8 547.9L293.5 543.9L292.0 540.0L290.3 536.2L288.4 532.6L286.3 529.1L284.0 525.8L281.6 522.6L279.0 519.7L276.2 517.0L273.2 514.6L270.1 512.4L266.8 510.5L263.4 508.8L259.9 507.4L256.2 506.2L252.4 505.2L248.6 504.4L244.6 503.9L240.6 503.5L236.6 503.3L232.5 503.4L228.3 503.5L224.2 503.9L220.0 504.4L215.8 505.1L211.6 505.9L207.5 506.8L203.4 507.9L199.4 509.0L195.4 510.3L191.4 511.7L187.6 513.2L183.8 514.8L180.0 516.5L176.3 518.3L172.7 520.1L169.2 522.1L165.7 524.2L162.2 526.3L158.8 528.5L155.5 530.9L152.3 533.2L149.1 535.7L146.0 538.3L142.9 540.9L139.9 543.6L137.0 546.3L134.1 549.2L131.3 552.1L128.5 555.0L125.9 558.0L123.2 561.1L120.7 564.3L118.2 567.4L115.8 570.7L113.4 574.0L111.1 577.3L108.9 580.7L106.7 584.1L104.5 587.5L102.4 591.0L100.3 594.4L98.2 597.9L96.0 601.3L93.9 604.8L91.8 608.2L89.6 611.5L87.3 614.9L85.0 618.2"/>
<path class="o" d="M241.8 503.9L237.4 504.4L233.0 504.9L228.8 505.6L224.6 506.4L220.4 507.4L216.3 508.4L212.3 509.6L208.3 510.9L204.4 512.2L200.6 513.7L196.8 515.3L193.0 517.0L189.3 518.8L185.7 520.7L182.1 522.7L178.6 524.8L175.1 527.0L171.7 529.2L168.3 531.5L164.9 533.9L161.6 536.4L158.4 538.9L155.2 541.5L152.0 544.2L148.9 546.9L145.8 549.7L142.8 552.6L139.8 555.5L136.9 558.4L133.9 561.4L131.1 564.4L128.2 567.5L125.4 570.6L122.6 573.8L119.9 577.0L117.2 580.2L114.5 583.4L111.9 586.7L109.3 589.9L106.7 593.2L104.2 596.5L101.6 599.8L99.1 603.2L96.7 606.5L94.2 609.8L91.8 613.2L89.4 616.5L87.0 619.8L84.7 623.1"/>
<path class="o" d="M277.5 600.3L277.7 596.5L277.8 592.5L277.8 588.3L277.6 584.0L277.2 579.6L276.5 575.3L275.7 571.0L274.5 566.8L273.0 562.8L271.2 559.0L269.1 555.5L266.5 552.4L263.7 549.6L260.6 547.1L257.3 544.9L253.8 543.1L250.1 541.6L246.4 540.4L242.5 539.6L238.7 539.1L234.9 538.9L231.1 539.0L227.3 539.4L223.5 540.1L219.7 541.0L215.9 542.2L212.2 543.6L208.5 545.2L204.8 546.9L201.2 548.9L197.6 551.1L194.0 553.3L190.5 555.7L187.0 558.3L183.6 560.9L180.2 563.6L176.9 566.4L173.6 569.2L170.4 572.1L167.3 575.0L164.2 577.9L161.2 580.8L158.2 583.7L155.3 586.7L152.5 589.7L149.7 592.7L147.0 595.7L144.4 598.7L141.8 601.8L139.2 604.9L136.7 608.0L134.3 611.2L131.9 614.4L129.6 617.6L127.3 620.9L125.1 624.2L122.9 627.6L120.8 631.0L118.7 634.4L116.7 637.9L114.7 641.4L112.7 645.0L110.8 648.6L109.0 652.3L107.1 656.0L105.3 659.8L103.6 663.6L101.9 667.5L100.2 671.4"/>
<path class="o" d="M83.0 624.3L80.7 628.1L78.6 632.0L76.7 635.9L74.9 640.0L73.2 644.0L71.6 648.1L70.0 652.2L68.4 656.4L66.9 660.5L65.2 664.6L63.5 668.6L61.6 672.6L59.6 676.5"/>
<path class="m" d="M84.3 617.7 L81.7 621.7 L83.7 623 L84.3 623"/>
<path class="o" d="M59.6 676.5 L71.5 677.2 L91.9 675.2 L100.5 671.3 M297.5 585 L277.7 600.1"/>
<path class="m" d="M121.4 619 C118 621 115 623 114 624.3 L105.6 639.1 L99.2 653.9 L92 675"/>
<path class="m" d="M121.4 619 C120.5 623 118 628 116.1 632.8 L108.7 648.6 L101.5 668"/>
<path class="t" d="M102.5 644.9 C99 650 97.5 654 97.2 658.1"/>
<path class="w" d="M153 642 L160.4 638.8 L165 640.2 L166 641 L136.4 693.7 L127.2 696.5 L124.4 693.7 Z"/>
<path class="o" d="M153 642 L160.4 638.8 L165 640.2 L166 641.5 L136.4 693.7 L127.2 696.5 L124.4 693.7 L153 642 Z"/>
<path class="t" d="M156.7 643 L127.2 693.7"/>
<path class="m" d="M144.5 647.5 l1.8-3.2 3.2 1.5 M128.5 676 l1.8-3 3.2 1.5"/>
<path fill="#fff" stroke="#333" stroke-width="1.2" d="M119 675.5 L128 680.5 L125 687 L116 682.5 Z"/>
<ellipse cx="117.5" cy="679" rx="3" ry="3.6" transform="rotate(30 117.5 679)" fill="#fff" stroke="#333" stroke-width="1.2"/>
<path fill="#fff" stroke="#333" stroke-width="1.1" d="M124 683 L129 685.5 L127.5 689 L122.5 686.5 Z"/>
<path class="L" style="stroke-width:1.2" d="M119.8 631.8 L141.9 643.8"/>
<path class="w" d="M236 632.9 L279.9 606.3 L285.5 607.7 L292 608 L305.7 599.1 L305.2 597.7 L302 594.5 L301.1 591.7 L302.9 589.4 L309.9 585.2 L313.1 583.4 L312.6 580.6 L314 578.8 L325.1 570.5 L335.7 563.5 L336.2 558.5 L334.3 553.9 L326 545.5 L322.3 544.2 L545.5 417.2 L550.1 421.8 L562 432.3 L564.6 433.6 L603.8 415.4 L608 414.5 L612.3 416.5 L688.8 374 L715.8 364.4 L717 368 L712.2 388.4 L708 395.6 L699.6 400.4 L266 645 L263.3 646.5 L262.4 643.7 L254 639.8 L247.2 635.5 L238.6 634.6 L236 632.9Z"/>
<path class="t" d="M332 544.4 L547 422.9"/>
<path class="t" d="M356 543.5 L548 437.2"/>
<path class="t" d="M340 561.9 L560 435.7"/>
<path class="t" d="M338 568.7 L566 439.9"/>
<path class="t" d="M291.0 631.9L292.8 628.3L294.9 624.9L297.2 621.6L299.6 618.4L302.2 615.4L305.0 612.4L307.9 609.6L310.9 606.9L314.0 604.3L317.2 601.7L320.5 599.2L323.9 596.8L327.3 594.4L330.7 592.1L334.2 589.8L337.6 587.5L341.1 585.3L344.6 583.1L348.1 580.9L351.6 578.7L355.1 576.6L358.6 574.4L362.1 572.3L365.6 570.3L369.1 568.2L372.7 566.1L376.2 564.1L379.7 562.1L383.2 560.1L386.8 558.1L390.3 556.1L393.9 554.2L397.4 552.3L401.0 550.3L404.5 548.4L408.1 546.5L411.6 544.6L415.2 542.7L418.7 540.8L422.3 539.0L425.9 537.1L429.4 535.2L433.0 533.4L436.6 531.5L440.1 529.7L443.7 527.8L447.3 526.0L450.8 524.2L454.4 522.3L458.0 520.5L461.5 518.6L465.1 516.8L468.6 515.0L472.2 513.1L475.8 511.3L479.3 509.4L482.9 507.5L486.4 505.7L490.0 503.8L493.5 501.9L497.1 500.0L500.6 498.1L504.2 496.2L507.7 494.3L511.2 492.3L514.7 490.4L518.3 488.4L521.8 486.4L525.3 484.4L528.8 482.4L532.3 480.4L535.8 478.4L539.3 476.3L542.8 474.2L546.3 472.1L549.8 470.0L553.2 467.8L556.7 465.7L560.2 463.5L563.6 461.3L567.1 459.0L570.5 456.8L573.9 454.5L577.3 452.2L580.8 449.8L584.2 447.5L587.6 445.1L591.0 442.6L594.3 440.2L597.7 437.7L601.1 435.2L604.4 432.6L607.8 430.1L611.1 427.5L614.5 424.9L617.8 422.4L621.2 419.8L624.6 417.3L627.9 414.9L631.3 412.5L634.8 410.2L638.2 407.9L641.6 405.8L645.1 403.7L648.6 401.8L652.2 400.0L655.8 398.3L659.4 396.8L663.1 395.4L666.8 394.2L670.5 393.1L674.3 392.3L678.2 391.6L682.1 391.1L686.0 390.9L690.0 390.9L694.1 391.1L698.2 391.8L701.9 393.3L705.0 396.1"/>
<path class="t" d="M260.5 619.7 L280.9 609.6"/>
<path class="t" d="M260.5 619.7 L271.6 628"/>
<path class="t" d="M304.8 594.5 L317.7 587.1 L315.9 583"/>
<path class="t" d="M317.7 579.7 L350 558.5"/>
<path class="t" d="M336.2 556.6 L338.9 563.1 L341.7 565"/>
<path class="t" d="M346.5 540.4 L355.4 546"/>
<path class="t" d="M537 428.4 L544.2 438.9"/>
<path class="t" d="M538.3 428.4 C540 424 542 421 544.9 419.8"/>
<path class="o" d="M236 632.9 L279.9 606.3 L285.5 607.7"/>
<path class="o" d="M305.7 599.1 L305.2 597.7 L302 594.5 L301.1 591.7 L302.9 589.4 L309.9 585.2 L313.1 583.4 L312.6 580.6 L314 578.8 L325.1 570.5 L335.7 563.5 L336.2 558.5 L334.3 553.9 L326 545.5 L322.3 544.2 L545.5 417.2 L550.1 421.8 L562 432.3 L564.6 433.6 L603.8 415.4 L608 414.5 L612.3 416.5 L688.8 374 L715.8 364.4 L717 368 L712.2 388.4 L708 395.6 L699.6 400.4"/>
<path class="o" d="M699.6 400.4 L266 645 L263.3 646.5 L262.4 643.7 L254 639.8 L247.2 635.5 L238.6 634.6 L236 632.9"/>
<path class="o" d="M292 609 L305.7 599.1 L690 377"/>
<path class="o" d="M275.3 620.6 L293.8 610.5"/>
<path class="o" d="M275.3 620.6 C273.5 627 273 633 272.6 637.3 C271.5 640 270 642 268.9 644.5"/>
<path fill="none" stroke="#222" stroke-width="3" d="M295.5 605.6 L305.7 599.1"/>
<circle cx="290.1" cy="608.2" r="3.4" fill="#fff" stroke="#333" stroke-width="1.3"/>
<circle cx="286.5" cy="610" r="2.5" fill="none" stroke="#333" stroke-width="1.1"/>
<path class="m" d="M612.3 419.5 L689 377"/>
<ellipse cx="357" cy="537.5" rx="2.6" ry="1.9" fill="#666" stroke="#333" stroke-width="1"/>
<ellipse cx="410.5" cy="508" rx="2.6" ry="1.9" fill="#666" stroke="#333" stroke-width="1"/>
<ellipse cx="479.4" cy="467.7" rx="2.6" ry="1.9" fill="#666" stroke="#333" stroke-width="1"/>
<ellipse cx="533" cy="437" rx="2.6" ry="1.9" fill="#666" stroke="#333" stroke-width="1"/>
<ellipse cx="266.1" cy="635" rx="2.6" ry="1.9" fill="#666" stroke="#333" stroke-width="1"/>
<path class="w" d="M595.6 485 L638 462.3 L644.9 462.7 L669.8 476.4 L670.6 480.7 L665.5 489.3 L662.9 499.6 L644.9 507.3 L626.9 516.7 L622.6 515 L602.9 504.7 L595.6 489.3 Z"/>
<path class="o" d="M595.6 485 L638 462.3 C640 461.6 643 461.8 644.9 462.7 L669 475.5 C671 477 671.2 479 670.3 481 L665.5 489.3 L662.9 499.6 L644.9 507.3 L628 516.5 C626 517.3 624 517 622.6 515.5 L602.9 504.7 L595.6 489.3 C595 487.5 595 486 595.6 485 Z"/>
<path class="m" d="M596.4 489.3 C600 491 620 500 626.9 501.7 C635 499 655 488 665.5 483.3"/>
<path class="t" d="M626.9 501.7 L626.9 516.7 M603 504 C612 507 620 509 623 513"/>
<path class="m" d="M602 487.6 L636 469 C637.5 468 639 468 640.5 468.5 L662.9 479.9 L628.5 497.5 C627.5 498 626 498 625 497.5 Z"/>
<path class="t" d="M607 487 L637 471.5 L658 481 L627.5 495.5 Z"/>
<path fill="none" stroke="#222" stroke-width="2.2" stroke-linecap="round" d="M609.7 485.9 L626 483 M640 480.5 L656.9 478 M627 496 L634 489 M644 476 L651.7 472"/>
<path fill="#fff" stroke="#333" stroke-width="1.2" d="M624.5 472 L624.5 489 C625 492 630 492 631 489 L631 472 Z"/>
<ellipse cx="627.7" cy="471.8" rx="3.4" ry="2.4" fill="#fff" stroke="#333" stroke-width="1.2"/>
<path fill="#fff" stroke="#333" stroke-width="1.1" d="M634.5 478 L634.5 486 C635 488.5 642 488.5 643 486 L643 478 Z"/>
<ellipse cx="638.8" cy="478" rx="4.3" ry="2.3" fill="#fff" stroke="#333" stroke-width="1.1"/>
<path fill="#fff" stroke="#333" stroke-width="1.3" d="M448.4 682 L448.4 693 L460.1 698.6 L471.9 693 L471.9 682 Z"/>
<path fill="none" stroke="#444" stroke-width="1" d="M457.6 683 V697 M467.7 683 V695"/>
<path fill="#fff" stroke="#333" stroke-width="1.3" d="M437.6 666 A22.5 11.5 0 0 0 482.6 666 L482.6 670 A22.5 12.2 0 0 1 437.6 670 Z"/>
<ellipse cx="460.1" cy="666" rx="22.5" ry="11.5" fill="#fff" stroke="#333" stroke-width="1.3"/>
<ellipse cx="460.1" cy="666.5" rx="16" ry="8.4" fill="none" stroke="#333" stroke-width="1.3"/>
<path fill="none" stroke="#333" stroke-width="1.4" d="M455.5 664.5 L464.5 669 M464.5 664.5 L455.5 669"/>
<path fill="none" stroke="#222" stroke-width="2" d="M466 674 C471 673 474 671 476 669"/>
<path fill="#fff" stroke="#333" stroke-width="1.3" d="M541.5 670 V695 L547.3 701.1 L552.4 695 V670 Z"/>
<path fill="none" stroke="#555" stroke-width="1" d="M541.5 675 L552.4 672.5 M541.5 679.5 L552.4 677 M541.5 684 L552.4 681.5 M541.5 688.5 L552.4 686 M541.5 693 L552.4 690.5 M543 697 L551 695"/>
<path fill="#fff" stroke="#333" stroke-width="1.3" d="M529.7 658.7 A16.8 9.3 0 0 0 563.3 658.7 L563.3 661 A16.8 9.5 0 0 1 529.7 661 Z"/>
<ellipse cx="546.5" cy="658.2" rx="16.8" ry="9.3" fill="#fff" stroke="#333" stroke-width="1.3"/>
<ellipse cx="546.5" cy="656.5" rx="11.3" ry="7" fill="#fff" stroke="#333" stroke-width="1.2"/>
<path fill="none" stroke="#666" stroke-width="1" d="M543 653 L550 654.5 M546 651.5 L547 656"/>
<path fill="#fff" stroke="#333" stroke-width="1.3" d="M590.8 686 L614.4 700.3 L647.2 683.5 C650 681 650 677 648 675.1 L622 689 Z"/>
<path fill="#fff" stroke="#333" stroke-width="1.3" d="M591.7 675.1 L622.8 659.5 L630.3 664.2 L638.7 669.2 L648 675.1 L617.7 690.2 Z"/>
<path fill="none" stroke="#222" stroke-width="2" d="M591.7 676.5 L617.7 691"/>
<ellipse cx="619.4" cy="675.1" rx="12.5" ry="7.2" fill="none" stroke="#444" stroke-width="1.1"/>
<ellipse cx="619.4" cy="670" rx="5" ry="3" fill="#fff" stroke="#555" stroke-width="1"/>
<path fill="none" stroke="#555" stroke-width="1" d="M614.4 670 L612 676 M624.4 670 L627 676"/>
<path fill="#fff" stroke="#333" stroke-width="1.3" d="M694.9 673 L694 690 L702.4 700.3 L719.2 691.1 L722.6 669.2 Z"/>
<path fill="#777" stroke="#333" stroke-width="1" d="M707 676 L721.5 669.5 L719.2 691.1 L706 698 Z"/>
<path fill="none" stroke="#bbb" stroke-width="0.8" d="M708 681 L720 675 M707.5 686 L719.5 680 M707 691 L719 685 M707 695 L718.5 689"/>
<path fill="#333" d="M694.5 674 L697.5 674 L697 690 L694 689 Z"/>
<path fill="#fff" stroke="#333" stroke-width="1.3" d="M689 661.6 L712.5 648.2 C718 646.5 723 649 726 653.2 L730 658 C731.5 661 729.5 664 726 666.7 L706.6 675.1 C701 677 696 675.5 694 672.6 L689.5 666 C688 664.5 688 662.5 689 661.6 Z"/>
<path fill="#bbb" stroke="#333" stroke-width="1.1" d="M785.6 686.5 L791.5 698.6 L797.3 686.5 Z"/>
<ellipse cx="790.6" cy="677.6" rx="20.6" ry="9.7" fill="#fff" stroke="#333" stroke-width="1.3"/>
<path fill="#fff" stroke="#333" stroke-width="1.3" d="M779.7 670 L799.9 658.3 L816.7 666.7 L814.2 669.2 L796.5 677.6 C788 679 780 676 779.7 670 Z"/>
<path fill="none" stroke="#333" stroke-width="1.3" d="M781 673 C784 678 790 680 797 679.5 L814.2 670.5 L814.2 669.2"/>
<path fill="#fff" stroke="#333" stroke-width="1.3" d="M862.9 680.5 L873.8 697.8 L885.5 680.5 Z"/>
<path fill="none" stroke="#444" stroke-width="1" d="M874 684 L878 690 L882 683 M876 693 L880 686"/>
<ellipse cx="874.6" cy="673" rx="19.3" ry="8.8" fill="#fff" stroke="#333" stroke-width="1.3"/>
<path fill="#fff" stroke="#333" stroke-width="1.3" d="M861.6 660 L862 667.5 C864 673 871 676 877.1 676 C884 676 891 672 892.6 667.5 L892.6 660 Z"/>
<path fill="none" stroke="#999" stroke-width="1" d="M862 665 C866 670 872 672 877 672 C883 672 889 669 892.5 665"/>
<ellipse cx="877.1" cy="659.5" rx="15.5" ry="8.6" transform="rotate(-8 877.1 659.5)" fill="#fff" stroke="#333" stroke-width="1.3"/>
<ellipse cx="874.6" cy="627.5" rx="25.2" ry="12" fill="#fff" stroke="#333" stroke-width="1.3"/>
<ellipse cx="874.6" cy="626" rx="24" ry="10.8" fill="none" stroke="#666" stroke-width="0.8"/>
<path fill="#fff" stroke="#333" stroke-width="1.3" d="M855.3 615.9 L856 622 C858 629 866 632 874.6 632 C884 632 891 629 893.5 622 L893.9 615.9 Z"/>
<ellipse cx="874.6" cy="615.9" rx="19.3" ry="10.5" fill="#fff" stroke="#333" stroke-width="1.3"/>
<ellipse cx="874.6" cy="613.8" rx="10.3" ry="5.5" fill="#fff" stroke="#222" stroke-width="2.2"/>
<path fill="#fff" stroke="#333" stroke-width="1.3" d="M961.1 620 V636 C961.1 641 965 641.5 967.4 641.5 C970 641.5 973.7 641 973.7 636 V620 Z"/>
<path fill="none" stroke="#333" stroke-width="1" d="M969.1 622 V640"/>
<ellipse cx="966.6" cy="610.9" rx="18" ry="10" fill="#fff" stroke="#333" stroke-width="1.3"/>
<ellipse cx="966.6" cy="609.5" rx="11" ry="6" fill="none" stroke="#999" stroke-width="0.9"/>
<path fill="#fff" stroke="#333" stroke-width="1.3" d="M962.8 595 V610 C964 612 970 612 971.2 610 V595 Z"/>
<path fill="#fff" stroke="#333" stroke-width="1.3" d="M959.4 592 C959.4 586 974.6 586 974.6 592 L974.6 594 C974.6 598 959.4 598 959.4 594 Z"/>
<path fill="none" stroke="#333" stroke-width="1" d="M964 590 L970 591.5"/>
<path fill="#000" d="M909.9 689 H956.9 V697.8 H909.9 Z M945.2 683.5 L983 662.1 L983.4 669 L951 687.7 Z"/>
<path fill="#fff" stroke="#111" stroke-width="1.5" stroke-linejoin="miter" d="M909.9 664.2 L920.8 670.1 L958.6 648.6 L983 662.1 L946 683.5 L951.9 688.5 L955.3 689.8 L909.9 689.8 Z"/>
<path fill="none" stroke="#111" stroke-width="1.5" d="M909.9 664.2 V697.8"/>
<!-- CALLOUT CIRCLES -->
<g id="circles">
<circle class="c" cx="790.3" cy="63.1" r="19"/>
<circle class="c" cx="809.7" cy="142" r="19"/>
<circle class="c" cx="853.3" cy="131.5" r="19"/>
<circle class="c" cx="637.3" cy="347.3" r="19"/>
<circle class="c" cx="449" cy="430.2" r="19"/>
<circle class="c" cx="410.5" cy="467.5" r="19"/>
<circle class="c" cx="699.8" cy="435.7" r="19"/>
<circle class="c" cx="699.8" cy="478.1" r="19"/>
<circle class="c" cx="150.7" cy="398.5" r="19"/>
<circle class="c" cx="195" cy="487.7" r="19"/>
<circle class="c" cx="56.8" cy="596" r="19"/>
<circle class="c" cx="74.6" cy="697.5" r="19"/>
<circle class="c" cx="267" cy="676.8" r="19"/>
</g>
<g id="nums"><path fill="#111" transform="translate(776.40 71.70)" d="M9.7 0 L9.7 -17.6 L6.3 -17.6 C5.2 -15.6 3.4 -14.2 1.1 -13.3 L1.1 -10.1 C2.5 -10.5 3.9 -11.2 5.1 -12 L5.1 0 Z"/><text class="n" x="790.30" y="71.70">5</text><path fill="#111" transform="translate(795.80 150.60)" d="M9.7 0 L9.7 -17.6 L6.3 -17.6 C5.2 -15.6 3.4 -14.2 1.1 -13.3 L1.1 -10.1 C2.5 -10.5 3.9 -11.2 5.1 -12 L5.1 0 Z"/><text class="n" x="809.70" y="150.60">7</text><path fill="#111" transform="translate(839.40 140.10)" d="M9.7 0 L9.7 -17.6 L6.3 -17.6 C5.2 -15.6 3.4 -14.2 1.1 -13.3 L1.1 -10.1 C2.5 -10.5 3.9 -11.2 5.1 -12 L5.1 0 Z"/><text class="n" x="853.30" y="140.10">5</text><path fill="#111" transform="translate(623.40 355.90)" d="M9.7 0 L9.7 -17.6 L6.3 -17.6 C5.2 -15.6 3.4 -14.2 1.1 -13.3 L1.1 -10.1 C2.5 -10.5 3.9 -11.2 5.1 -12 L5.1 0 Z"/><text class="n" x="637.30" y="355.90">0</text><text class="n" x="442.05" y="438.80">9</text><path fill="#111" transform="translate(396.60 476.10)" d="M9.7 0 L9.7 -17.6 L6.3 -17.6 C5.2 -15.6 3.4 -14.2 1.1 -13.3 L1.1 -10.1 C2.5 -10.5 3.9 -11.2 5.1 -12 L5.1 0 Z"/><path fill="#111" transform="translate(410.50 476.10)" d="M9.7 0 L9.7 -17.6 L6.3 -17.6 C5.2 -15.6 3.4 -14.2 1.1 -13.3 L1.1 -10.1 C2.5 -10.5 3.9 -11.2 5.1 -12 L5.1 0 Z"/><path fill="#111" transform="translate(685.90 444.30)" d="M9.7 0 L9.7 -17.6 L6.3 -17.6 C5.2 -15.6 3.4 -14.2 1.1 -13.3 L1.1 -10.1 C2.5 -10.5 3.9 -11.2 5.1 -12 L5.1 0 Z"/><text class="n" x="699.80" y="444.30">2</text><path fill="#111" transform="translate(685.90 486.70)" d="M9.7 0 L9.7 -17.6 L6.3 -17.6 C5.2 -15.6 3.4 -14.2 1.1 -13.3 L1.1 -10.1 C2.5 -10.5 3.9 -11.2 5.1 -12 L5.1 0 Z"/><text class="n" x="699.80" y="486.70">3</text><path fill="#111" transform="translate(136.80 407.10)" d="M9.7 0 L9.7 -17.6 L6.3 -17.6 C5.2 -15.6 3.4 -14.2 1.1 -13.3 L1.1 -10.1 C2.5 -10.5 3.9 -11.2 5.1 -12 L5.1 0 Z"/><text class="n" x="150.70" y="407.10">5</text><path fill="#111" transform="translate(181.10 496.30)" d="M9.7 0 L9.7 -17.6 L6.3 -17.6 C5.2 -15.6 3.4 -14.2 1.1 -13.3 L1.1 -10.1 C2.5 -10.5 3.9 -11.2 5.1 -12 L5.1 0 Z"/><text class="n" x="195.00" y="496.30">5</text><path fill="#111" transform="translate(42.90 604.60)" d="M9.7 0 L9.7 -17.6 L6.3 -17.6 C5.2 -15.6 3.4 -14.2 1.1 -13.3 L1.1 -10.1 C2.5 -10.5 3.9 -11.2 5.1 -12 L5.1 0 Z"/><text class="n" x="56.80" y="604.60">7</text><path fill="#111" transform="translate(60.70 706.10)" d="M9.7 0 L9.7 -17.6 L6.3 -17.6 C5.2 -15.6 3.4 -14.2 1.1 -13.3 L1.1 -10.1 C2.5 -10.5 3.9 -11.2 5.1 -12 L5.1 0 Z"/><text class="n" x="74.60" y="706.10">6</text><path fill="#111" transform="translate(253.10 685.40)" d="M9.7 0 L9.7 -17.6 L6.3 -17.6 C5.2 -15.6 3.4 -14.2 1.1 -13.3 L1.1 -10.1 C2.5 -10.5 3.9 -11.2 5.1 -12 L5.1 0 Z"/><text class="n" x="267.00" y="685.40">4</text></g>
<g id="labels"><text class="n" x="943.40" y="105.50">6</text><text class="n" x="943.90" y="185.50">7</text><text class="n" x="942.90" y="224.50">8</text><path fill="#111" transform="translate(831.90 268.00)" d="M9.7 0 L9.7 -17.6 L6.3 -17.6 C5.2 -15.6 3.4 -14.2 1.1 -13.3 L1.1 -10.1 C2.5 -10.5 3.9 -11.2 5.1 -12 L5.1 0 Z"/><text class="n" x="845.80" y="268.00">8</text><text class="n" x="532.40" y="391.00">4</text><text class="n" x="619.40" y="568.50">5</text><path fill="#111" transform="translate(26.40 562.50)" d="M9.7 0 L9.7 -17.6 L6.3 -17.6 C5.2 -15.6 3.4 -14.2 1.1 -13.3 L1.1 -10.1 C2.5 -10.5 3.9 -11.2 5.1 -12 L5.1 0 Z"/><text class="n" x="23.90" y="678.50">2</text><text class="n" x="184.90" y="680.00">3</text></g>
<g id="leaders" class="L">
<path d="M891 100H944"/>
<path d="M901 180H944"/>
<path d="M950.2 229.7V250.8"/>
<path d="M844.7 223.4V246.6"/>
<path d="M541.8 396.4V414.8"/>
<path d="M626.2 523V548.9"/>
<path d="M39 557H61.5"/>
<path d="M39 672.5H58.8"/>
<path d="M151.2 672.5H181.5"/>
<path d="M266.4 647.8V657"/>
<path d="M699.8 400.7V416.5"/>
<path d="M699.8 455V459"/>
<path d="M638.6 366.9V403.8"/>
<path d="M656.6 359.5L686 373.2"/>
<path d="M466.3 440.7L484.8 450"/>
<path d="M410.3 487V505.4"/>
<path d="M76 607L87.8 612.3"/>
<path d="M827.4 152.7L834.8 155.8"/>
</g>

<!-- TABLE -->
<g id="table" stroke="#777" stroke-width="1.3" fill="none">
<path d="M403 644.4H987.6V703.4H403Z"/>
<path d="M486 644.4V703.4M569.3 644.4V703.4M653 644.4V703.4M736.5 644.4V703.4M820.6 644.4V703.4M904 644.4V703.4"/>
<path d="M820.6 644.4V584H987.6V644.4M904 584V644.4"/>
</g>
<g id="tlabels"><path fill="#111" transform="translate(409.00 667.50)" d="M9.7 0 L9.7 -17.6 L6.3 -17.6 C5.2 -15.6 3.4 -14.2 1.1 -13.3 L1.1 -10.1 C2.5 -10.5 3.9 -11.2 5.1 -12 L5.1 0 Z"/><text class="n" x="422.90" y="667.50">4</text><path fill="#111" transform="translate(492.10 667.50)" d="M9.7 0 L9.7 -17.6 L6.3 -17.6 C5.2 -15.6 3.4 -14.2 1.1 -13.3 L1.1 -10.1 C2.5 -10.5 3.9 -11.2 5.1 -12 L5.1 0 Z"/><text class="n" x="506.00" y="667.50">3</text><path fill="#111" transform="translate(575.50 667.50)" d="M9.7 0 L9.7 -17.6 L6.3 -17.6 C5.2 -15.6 3.4 -14.2 1.1 -13.3 L1.1 -10.1 C2.5 -10.5 3.9 -11.2 5.1 -12 L5.1 0 Z"/><text class="n" x="589.40" y="667.50">2</text><path fill="#111" transform="translate(659.30 667.50)" d="M9.7 0 L9.7 -17.6 L6.3 -17.6 C5.2 -15.6 3.4 -14.2 1.1 -13.3 L1.1 -10.1 C2.5 -10.5 3.9 -11.2 5.1 -12 L5.1 0 Z"/><path fill="#111" transform="translate(673.20 667.50)" d="M9.7 0 L9.7 -17.6 L6.3 -17.6 C5.2 -15.6 3.4 -14.2 1.1 -13.3 L1.1 -10.1 C2.5 -10.5 3.9 -11.2 5.1 -12 L5.1 0 Z"/><path fill="#111" transform="translate(742.90 667.50)" d="M9.7 0 L9.7 -17.6 L6.3 -17.6 C5.2 -15.6 3.4 -14.2 1.1 -13.3 L1.1 -10.1 C2.5 -10.5 3.9 -11.2 5.1 -12 L5.1 0 Z"/><text class="n" x="756.80" y="667.50">0</text><path fill="#111" transform="translate(742.90 697.00)" d="M9.7 0 L9.7 -17.6 L6.3 -17.6 C5.2 -15.6 3.4 -14.2 1.1 -13.3 L1.1 -10.1 C2.5 -10.5 3.9 -11.2 5.1 -12 L5.1 0 Z"/><text class="n" x="756.80" y="697.00">5</text><text class="n" x="826.30" y="667.50">9</text><path fill="#111" transform="translate(826.50 607.50)" d="M9.7 0 L9.7 -17.6 L6.3 -17.6 C5.2 -15.6 3.4 -14.2 1.1 -13.3 L1.1 -10.1 C2.5 -10.5 3.9 -11.2 5.1 -12 L5.1 0 Z"/><text class="n" x="840.40" y="607.50">7</text><path fill="#111" transform="translate(910.10 607.50)" d="M9.7 0 L9.7 -17.6 L6.3 -17.6 C5.2 -15.6 3.4 -14.2 1.1 -13.3 L1.1 -10.1 C2.5 -10.5 3.9 -11.2 5.1 -12 L5.1 0 Z"/><text class="n" x="924.00" y="607.50">6</text></g>
<text x="911" y="719.4" font-family="Liberation Sans" font-size="16" fill="#333" stroke="#333" stroke-width="0.25" textLength="71.5" lengthAdjust="spacingAndGlyphs">00175466</text>
<text x="923.3" y="730.3" font-family="Liberation Sans" font-size="15.5" fill="#555" stroke="#555" stroke-width="0.2" textLength="56.5" lengthAdjust="spacingAndGlyphs">440208</text>

</svg>
</body></html>
